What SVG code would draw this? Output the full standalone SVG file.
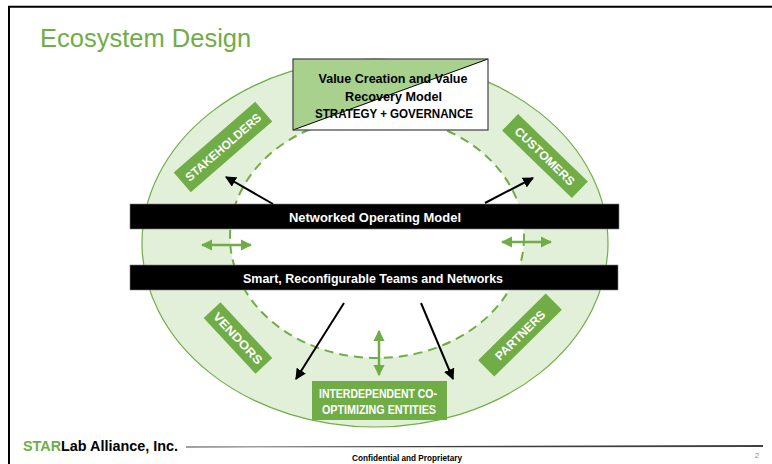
<svg xmlns="http://www.w3.org/2000/svg" width="772" height="464" viewBox="0 0 772 464">
  <style>
    .title { font-family: "Liberation Sans", Arial, sans-serif; font-size: 25.5px; fill: #70AD47; }
    .bold { font-family: "Liberation Sans", Arial, sans-serif; font-weight: bold; }
    .lbl { font-family: "Liberation Sans", Arial, sans-serif; font-weight: bold; font-size: 12px; fill: #FFFFFF; text-anchor: middle; }
    .bartxt { font-family: "Liberation Sans", Arial, sans-serif; font-weight: bold; font-size: 13px; fill: #FFFFFF; text-anchor: middle; }
    .boxtxt { font-family: "Liberation Sans", Arial, sans-serif; font-weight: bold; font-size: 13px; fill: #000000; text-anchor: middle; }
    .tag { fill: #70AD47; }
    .blk { stroke: #000000; stroke-width: 2; fill: none; marker-end: url(#ahBlack); }
    .grn { stroke: #70AD47; stroke-width: 2.5; fill: none; marker-start: url(#ahGreen); marker-end: url(#ahGreen); }
  </style>
  <defs>
    <marker id="ahBlack" viewBox="0 0 10 10" refX="9" refY="5" markerWidth="5.5" markerHeight="5.5" orient="auto" markerUnits="strokeWidth">
      <path d="M0,0 L10,5 L0,10 z" fill="#000000"/>
    </marker>
    <marker id="ahGreen" viewBox="0 0 10 10" refX="9" refY="5" markerWidth="4.5" markerHeight="4.5" orient="auto-start-reverse" markerUnits="strokeWidth">
      <path d="M0,0 L10,5 L0,10 z" fill="#70AD47"/>
    </marker>
  </defs>

  <!-- slide frame -->
  <rect x="0" y="0" width="772" height="464" fill="#FFFFFF"/>
  <path d="M9,464 V6.8 H772" fill="none" stroke="#000000" stroke-width="2"/>

  <!-- title -->
  <text class="title" x="40" y="46.5">Ecosystem Design</text>

  <!-- ecosystem rings -->
  <g id="rings">
    <ellipse cx="375" cy="243" rx="233" ry="184" fill="#E2F0D9" stroke="#70AD47" stroke-width="1.2"/>
    <ellipse cx="377" cy="237" rx="147" ry="121" fill="#FFFFFF" stroke="#70AD47" stroke-width="2" stroke-dasharray="9,6"/>
  </g>

  <!-- strategy + governance box -->
  <g id="strategy">
    <rect x="293" y="59" width="195" height="71" fill="#FFFFFF"/>
    <polygon points="293,59 488,59 293,130" fill="#A9D18E"/>
    <line x1="293" y1="130" x2="488" y2="59" stroke="#000000" stroke-width="1"/>
    <rect x="293" y="59" width="195" height="71" fill="none" stroke="#404040" stroke-width="1.2"/>
    <text class="boxtxt" x="393" y="83" textLength="149" lengthAdjust="spacingAndGlyphs">Value Creation and Value</text>
    <text class="boxtxt" x="393.5" y="101" textLength="97" lengthAdjust="spacingAndGlyphs">Recovery Model</text>
    <text class="boxtxt" x="394" y="118" textLength="158" lengthAdjust="spacingAndGlyphs">STRATEGY + GOVERNANCE</text>
  </g>

  <!-- outer ring labels -->
  <g id="stakeholders" transform="translate(223,147) rotate(-41)">
    <rect class="tag" x="-54" y="-13" width="108" height="26"/>
    <text class="lbl" x="0" y="4.5" textLength="96" lengthAdjust="spacingAndGlyphs">STAKEHOLDERS</text>
  </g>
  <g id="customers" transform="translate(545,156) rotate(44)">
    <rect class="tag" x="-48.5" y="-11.5" width="97" height="23"/>
    <text class="lbl" x="0" y="4.5" textLength="78" lengthAdjust="spacingAndGlyphs">CUSTOMERS</text>
  </g>
  <g id="vendors" transform="translate(238,338) rotate(47)">
    <rect class="tag" x="-38" y="-11.5" width="76" height="23"/>
    <text class="lbl" x="0" y="4.5" textLength="66" lengthAdjust="spacingAndGlyphs">VENDORS</text>
  </g>
  <g id="partners" transform="translate(520,335) rotate(-44.6)">
    <rect class="tag" x="-47.5" y="-11.5" width="95" height="23"/>
    <text class="lbl" x="0" y="4.5" textLength="65" lengthAdjust="spacingAndGlyphs">PARTNERS</text>
  </g>
  <g id="entities">
    <rect class="tag" x="312" y="381" width="135" height="39"/>
    <text class="lbl" x="378" y="397.5" textLength="118" lengthAdjust="spacingAndGlyphs">INTERDEPENDENT CO-</text>
    <text class="lbl" x="379" y="413.5" textLength="114" lengthAdjust="spacingAndGlyphs">OPTIMIZING ENTITIES</text>
  </g>

  <!-- operating model bars -->
  <g id="operating-model">
    <rect x="130" y="204" width="489" height="25" fill="#000000" stroke="#7F7F7F" stroke-width="0.6"/>
    <text class="bartxt" x="375" y="221.5" textLength="172" lengthAdjust="spacingAndGlyphs">Networked Operating Model</text>
  </g>
  <g id="teams">
    <rect x="130" y="265" width="488" height="25" fill="#000000" stroke="#7F7F7F" stroke-width="0.6"/>
    <text class="bartxt" x="373" y="282.5" textLength="260" lengthAdjust="spacingAndGlyphs">Smart, Reconfigurable Teams and Networks</text>
  </g>

  <!-- connectors -->
  <g id="connectors">
    <line class="blk" x1="273" y1="204" x2="226" y2="177"/>
    <line class="blk" x1="485" y1="203" x2="533" y2="178"/>
    <line class="blk" x1="344" y1="303" x2="296" y2="379"/>
    <line class="blk" x1="421" y1="303" x2="453" y2="379"/>
    <line class="grn" x1="202" y1="245" x2="251" y2="245"/>
    <line class="grn" x1="502" y1="242" x2="551" y2="242"/>
    <line class="grn" x1="379" y1="331" x2="379" y2="375"/>
  </g>

  <!-- footer -->
  <g id="footer">
    <text class="bold" x="23" y="451" font-size="14" textLength="155" lengthAdjust="spacingAndGlyphs"><tspan fill="#70AD47">STAR</tspan><tspan fill="#000000">Lab Alliance, Inc.</tspan></text>
    <polygon points="186,446.6 763,445 763,447 186,447.4" fill="#404040"/>
    <text class="bold" x="407" y="461" font-size="8.5" text-anchor="middle" fill="#000000" textLength="110" lengthAdjust="spacingAndGlyphs">Confidential and Proprietary</text>
    <text x="757" y="458" font-family="Liberation Sans, Arial, sans-serif" font-size="8" fill="#8C8C8C" text-anchor="middle">2</text>
  </g>
</svg>
